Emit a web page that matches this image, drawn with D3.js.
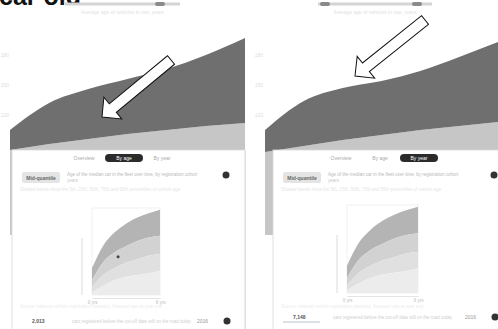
<!DOCTYPE html>
<html>
<head>
<meta charset="utf-8">
<script src="https://cdn.jsdelivr.net/npm/d3@7"></script>
<style>
body { margin: 0; background: #fff; overflow: hidden; }
svg { display: block; font-family: "Liberation Sans", Arial, sans-serif; }
</style>
</head>
<body>
<div class="diagram"></div>
<script>
// stacked area values (lower light band + upper dark band)
const years = [2010, 2011, 2012, 2013, 2014, 2015, 2016];
const leftLower = [85, 91, 96, 101, 105, 109, 112];
const leftUpper = [20, 41, 50, 55, 61, 71, 85];
const rightLower = [83, 89, 95, 100, 105, 109, 113];
const rightUpper = [22, 45, 52, 54, 59, 69, 80];
const axisTicks = [120, 150, 180];
// small fan chart inside the cards
const ages = [0, 1, 2, 3, 4, 5, 6];
const fanQ95 = [31, 57, 72, 82, 89, 94, 98];
const fanQ75 = [17, 38, 49, 56, 62, 66, 68];
const fanQ50 = [9, 23, 31, 37, 41, 45, 47];
const fanQ25 = [3, 11, 17, 21, 23, 25, 28];
const fanQ5 = [0, 0, 0, 0, 0, 0, 0];
const fanPoint = [2.3, 44];
const tabs = ["Overview", "By age", "By year"];

const w = 498, h = 329;
const svg = d3.select(".diagram").append("svg")
  .attr("width", w)
  .attr("height", h);

svg.append("text")
  .attr("x", -1)
  .attr("y", 5)
  .attr("font-size", 25)
  .attr("font-weight", "bold")
  .attr("fill", "#111")
  .text("car old");

const panels = [
  { lower: leftLower, upper: leftUpper, x0: 10, x1: 245, axisX: 10, tab: 1,
    legend: [65, 180], blobs: [160], card: [12, 150, 233, 200], tabX: [84, 124, 162],
    fan: [92, 160, 208, 295], arrow: [171, 60, 102, 117] },
  { lower: rightLower, upper: rightUpper, x0: 265, x1: 498, axisX: 264, tab: 2,
    legend: [318, 432], blobs: [325, 417], card: [273, 150, 240, 200], tabX: [341, 380, 419],
    fan: [347, 418, 205, 293], arrow: [425, 20, 355, 76] }
];

panels.forEach((p, k) => {
  const g = svg.append("g");

  // faint legend on top
  g.append("line")
    .attr("x1", p.legend[0]).attr("x2", p.legend[1])
    .attr("y1", 4).attr("y2", 4)
    .attr("stroke", "#d4d4d4").attr("stroke-width", 3);
  p.blobs.forEach(b => g.append("rect")
    .attr("x", b - 5).attr("y", 2).attr("width", 10).attr("height", 4)
    .attr("rx", 2).attr("fill", "#8a8a8a"));
  g.append("text")
    .attr("x", (p.legend[0] + p.legend[1]) / 2).attr("y", 14)
    .attr("text-anchor", "middle").attr("font-size", 5).attr("fill", "#e2e2e2")
    .text("Average age of vehicles in use, years");

  const rows = years.map((y, i) => ({ year: y, lower: p.lower[i], upper: p.upper[i] }));
  const series = d3.stack().keys(["lower", "upper"])(rows);

  const xScale = d3.scaleLinear()
    .domain(d3.extent(years))
    .range([p.x0, p.x1]);
  const yScale = d3.scaleLinear()
    .domain([0, 200])
    .range([235, 35]);

  const area = d3.area()
    .x(d => xScale(d.data.year))
    .y0(d => yScale(d[0]))
    .y1(d => yScale(d[1]))
    .curve(d3.curveMonotoneX);

  g.selectAll(".layer")
    .data(series)
    .enter()
    .append("path")
    .attr("class", "layer")
    .attr("d", area)
    .attr("fill", (d, i) => i === 0 ? "#c6c6c6" : "#6f6f6f");

  const yAxis = d3.axisLeft(yScale).tickValues(axisTicks).tickSize(0).tickPadding(1);
  g.append("g")
    .attr("transform", "translate(" + p.axisX + ",0)")
    .call(yAxis)
    .call(a => a.select(".domain").remove())
    .call(a => a.selectAll("text").attr("fill", "#ddd").attr("font-size", 5));

  // card
  const c = p.card;
  g.append("rect")
    .attr("x", c[0] + 1).attr("y", c[1] + 1).attr("width", c[2]).attr("height", c[3])
    .attr("fill", "#e6e6e6");
  g.append("rect")
    .attr("x", c[0]).attr("y", c[1]).attr("width", c[2]).attr("height", c[3])
    .attr("fill", "#fff").attr("stroke", "#d8d8d8").attr("stroke-width", 0.8);

  tabs.forEach((t, i) => {
    if (i === p.tab) {
      g.append("rect")
        .attr("x", p.tabX[i] - 19).attr("y", 154).attr("width", 38).attr("height", 8)
        .attr("rx", 4).attr("fill", "#2b2b2b");
    }
    g.append("text")
      .attr("x", p.tabX[i]).attr("y", 160)
      .attr("text-anchor", "middle").attr("font-size", 5)
      .attr("fill", i === p.tab ? "#fff" : "#aaa")
      .text(t);
  });

  g.append("rect")
    .attr("x", c[0] + 10).attr("y", 172).attr("width", 38).attr("height", 11)
    .attr("rx", 2).attr("fill", "#e4e4e4");
  g.append("text")
    .attr("x", c[0] + 29).attr("y", 179.5)
    .attr("text-anchor", "middle").attr("font-size", 5).attr("font-weight", "bold")
    .attr("fill", "#666")
    .text("Mid-quantile");
  g.append("text")
    .attr("x", c[0] + 55).attr("y", 176).attr("font-size", 4.5).attr("fill", "#b8b8b8")
    .text("Age of the median car in the fleet over time, by registration cohort");
  g.append("text")
    .attr("x", c[0] + 55).attr("y", 182).attr("font-size", 4.5).attr("fill", "#c8c8c8")
    .text("years");
  g.append("circle")
    .attr("cx", c[0] + c[2] - 19).attr("cy", 175).attr("r", 3.5).attr("fill", "#333");
  g.append("text")
    .attr("x", c[0] + 8).attr("y", 191).attr("font-size", 4.5).attr("fill", "#e6e6e6")
    .text("Shaded bands show the 5th, 25th, 50th, 75th and 95th percentiles of vehicle age");

  // fan chart
  const f = p.fan;
  const fx = d3.scaleLinear().domain(d3.extent(ages)).range([f[0], f[1]]);
  const fy = d3.scaleLinear().domain([0, 100]).range([f[3], f[2]]);
  const bands = [[fanQ75, fanQ95], [fanQ50, fanQ75], [fanQ25, fanQ50], [fanQ5, fanQ25]];
  const shades = ["#b4b4b4", "#d2d2d2", "#e0e0e0", "#ececec"];
  const band = d3.area()
    .x((d, i) => fx(ages[i]))
    .y0(d => fy(d[0]))
    .y1(d => fy(d[1]))
    .curve(d3.curveMonotoneX);
  g.append("rect")
    .attr("x", f[0]).attr("y", f[2]).attr("width", f[1] - f[0]).attr("height", f[3] - f[2])
    .attr("fill", "none").attr("stroke", "#eee").attr("stroke-width", 0.8);
  bands.forEach((b, j) => {
    g.append("path")
      .datum(ages.map((a, i) => [b[0][i], b[1][i]]))
      .attr("d", band)
      .attr("fill", shades[j]);
  });
  g.append("line")
    .attr("x1", f[0] - 10).attr("x2", f[0] - 10)
    .attr("y1", f[2] + 30).attr("y2", f[3])
    .attr("stroke", "#d0d0d0").attr("stroke-width", 0.8);
  const fAxis = d3.axisBottom(fx).tickValues([0, 6]).tickSize(0).tickFormat(d => d + " yrs");
  g.append("g")
    .attr("transform", "translate(0," + (f[3] + 3) + ")")
    .call(fAxis)
    .call(a => a.select(".domain").attr("stroke", "#e4e4e4"))
    .call(a => a.selectAll("text").attr("fill", "#bbb").attr("font-size", 4.5));
  if (k === 0) {
    g.append("circle")
      .attr("cx", fx(fanPoint[0])).attr("cy", fy(fanPoint[1])).attr("r", 1.5)
      .attr("fill", "#444");
  }
  g.append("text")
    .attr("x", c[0] + 8).attr("y", 308).attr("font-size", 4.5).attr("fill", "#ececec")
    .text("Source: national vehicle registration statistics, licensed cars at year end");

  // bottom row
  const by = k === 0 ? 321 : 317;
  g.append("text")
    .attr("x", c[0] + 20).attr("y", by + 2).attr("font-size", 5).attr("font-weight", "bold")
    .attr("fill", "#555")
    .text(k === 0 ? "2,013" : "7,148");
  if (k === 1) {
    g.append("line")
      .attr("x1", c[0] + 10).attr("x2", c[0] + 47).attr("y1", by + 5).attr("y2", by + 5)
      .attr("stroke", "#b9c2cc").attr("stroke-width", 1);
  }
  g.append("text")
    .attr("x", c[0] + 60).attr("y", by + 2).attr("font-size", 4.5).attr("fill", "#cfcfcf")
    .text("cars registered before the cut-off date still on the road today");
  g.append("text")
    .attr("x", c[0] + c[2] - 48).attr("y", by + 2).attr("font-size", 5).attr("fill", "#999")
    .text("2016");
  g.append("circle")
    .attr("cx", c[0] + c[2] - 18).attr("cy", by).attr("r", 3.5).attr("fill", "#333");

  // arrow annotation
  const a = p.arrow;
  const len = Math.hypot(a[2] - a[0], a[3] - a[1]);
  const ang = Math.atan2(a[3] - a[1], a[2] - a[0]) * 180 / Math.PI;
  const sw = 5.5, hw = 14, hl = 14;
  const pts = [[0, -sw], [len - hl, -sw], [len - hl, -hw], [len, 0],
    [len - hl, hw], [len - hl, sw], [0, sw]];
  g.append("path")
    .attr("d", "M" + pts.join("L") + "Z")
    .attr("transform", "translate(" + a[0] + "," + a[1] + ") rotate(" + ang + ")")
    .attr("fill", "#fff")
    .attr("stroke", "#111")
    .attr("stroke-width", 1);
});
</script>
</body>
</html>
